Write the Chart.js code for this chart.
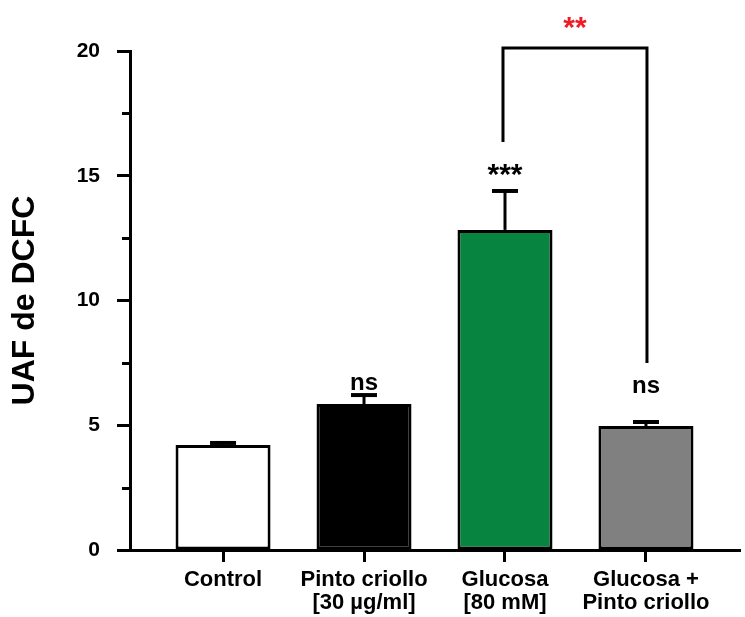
<!DOCTYPE html>
<html>
<head>
<meta charset="utf-8">
<script src="https://cdn.jsdelivr.net/npm/chart.js@4.4.1/dist/chart.umd.min.js"></script>
<style>
  html, body { margin: 0; padding: 0; background: #fff; }
  #wrap { width: 745px; height: 617px; }
</style>
</head>
<body>
<div id="wrap"><canvas id="chart" width="745" height="617"></canvas></div>
<script>
const categories = [
    'Control',
    ['Pinto criollo', '[30 µg/ml]'],
    ['Glucosa', '[80 mM]'],
    ['Glucosa +', 'Pinto criollo']
];
const means  = [4.21, 5.85, 12.83, 4.97];
const errors = [0.08, 0.36, 1.56, 0.16];
const barColors = ['#ffffff', '#000000', '#07843f', '#808080'];

const yTicks = [0, 5, 10, 15, 20];
const yMinorTicks = [2.5, 7.5, 12.5, 17.5];

// significance marks: text and the level (in y units) of its baseline
const sigLabels = ['', 'ns', '***', 'ns'];
const sigLevels = [0, 6.4, 14.67, 6.3];

// bracket between Glucosa and Glucosa + Pinto criollo
const bracketFrom = 2, bracketTo = 3;
const bracketTop = 20.12;
const bracketLeftEnd = 16.35;
const bracketRightEnd = 7.5;
const bracketLabel = '**';
const bracketLabelLevel = 20.58;

const FONT = "'Liberation Sans', Arial, Helvetica, sans-serif";

const marksPlugin = {
    id: 'marks',
    afterDatasetsDraw(chart) {
        const c = chart.ctx;
        const xs = chart.scales.x;
        const ys = chart.scales.y;
        c.save();
        c.strokeStyle = '#000';
        c.fillStyle = '#000';
        c.lineWidth = 3;
        c.lineCap = 'butt';

        // minor ticks on y
        yMinorTicks.forEach(v => {
            const py = Math.round(ys.getPixelForValue(v)) + 0.5;
            c.beginPath();
            c.moveTo(ys.right - 8, py);
            c.lineTo(ys.right, py);
            c.stroke();
        });

        // error bars (upper only)
        means.forEach((m, i) => {
            const px = xs.getPixelForValue(i);
            const y0 = ys.getPixelForValue(m);
            const y1 = ys.getPixelForValue(m + errors[i]);
            c.lineWidth = 3;
            c.beginPath();
            c.moveTo(px, y0);
            c.lineTo(px, y1);
            c.stroke();
            c.lineWidth = 4;
            c.beginPath();
            c.moveTo(px - 13, y1);
            c.lineTo(px + 13, y1);
            c.stroke();
        });

        // significance text
        c.textAlign = 'center';
        c.textBaseline = 'alphabetic';
        sigLabels.forEach((s, i) => {
            if (!s) return;
            const size = s === 'ns' ? 24 : 30;
            c.font = 'bold ' + size + 'px ' + FONT;
            c.fillText(s, xs.getPixelForValue(i), ys.getPixelForValue(sigLevels[i]));
        });

        // bracket
        const bx0 = xs.getPixelForValue(bracketFrom) - 2;
        const bx1 = xs.getPixelForValue(bracketTo) + 1;
        const by = ys.getPixelForValue(bracketTop);
        c.lineWidth = 3;
        c.lineJoin = 'miter';
        c.beginPath();
        c.moveTo(bx0, ys.getPixelForValue(bracketLeftEnd));
        c.lineTo(bx0, by);
        c.lineTo(bx1, by);
        c.lineTo(bx1, ys.getPixelForValue(bracketRightEnd));
        c.stroke();

        c.fillStyle = '#ee1c25';
        c.font = 'bold 30px ' + FONT;
        c.fillText(bracketLabel, (bx0 + bx1) / 2, ys.getPixelForValue(bracketLabelLevel));
        c.restore();
    }
};

new Chart(document.getElementById('chart'), {
    type: 'bar',
    data: {
        datasets: [{
            data: means.map((m, i) => ({ x: i, y: m })),
            backgroundColor: barColors,
            borderColor: '#000',
            borderWidth: 3,
            borderSkipped: false,
            barPercentage: 0.674,
            categoryPercentage: 1
        }]
    },
    options: {
        responsive: false,
        animation: false,
        layout: {
            padding: { top: 51, right: 5, bottom: 0, left: 0 }
        },
        plugins: {
            legend: { display: false },
            tooltip: { enabled: false }
        },
        scales: {
            x: {
                type: 'linear',
                min: -0.66,
                max: 3.667,
                offset: false,
                afterBuildTicks: (s) => { s.ticks = categories.map((c, i) => ({ value: i })); },
                afterFit: (s) => { s.height = 67; },
                grid: {
                    offset: false,
                    drawOnChartArea: false,
                    tickLength: 12,
                    tickWidth: 3,
                    tickColor: '#000'
                },
                border: { display: true, color: '#000', width: 3 },
                ticks: {
                    autoSkip: false,
                    maxRotation: 0,
                    padding: 7,
                    color: '#000',
                    font: { family: FONT, size: 22, weight: 'bold', lineHeight: 1.03 },
                    callback: (v) => categories[v]
                }
            },
            y: {
                min: 0,
                max: 20,
                afterBuildTicks: (s) => { s.ticks = yTicks.map(v => ({ value: v })); },
                afterFit: (s) => { s.width = 130; },
                grid: {
                    drawOnChartArea: false,
                    tickLength: 13,
                    tickWidth: 3,
                    tickColor: '#000'
                },
                border: { display: true, color: '#000', width: 3 },
                ticks: {
                    padding: 17,
                    color: '#000',
                    font: { family: FONT, size: 21, weight: 'bold' }
                },
                title: {
                    display: true,
                    text: 'UAF de DCFC',
                    color: '#000',
                    padding: { top: 6, bottom: 0 },
                    font: { family: FONT, size: 32, weight: 'bold' }
                }
            }
        }
    },
    plugins: [marksPlugin]
});
</script>
</body>
</html>
